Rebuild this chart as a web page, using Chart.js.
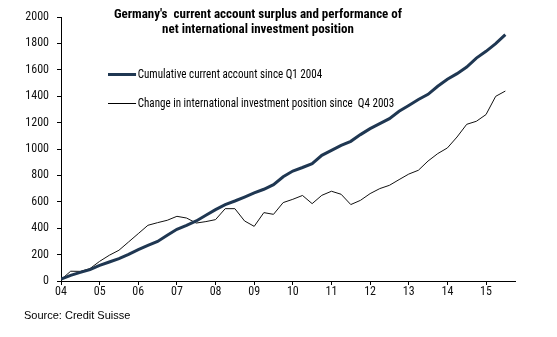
<!DOCTYPE html>
<html>
<head>
<meta charset="utf-8">
<script src="https://cdn.jsdelivr.net/npm/chart.js@4"></script>
<style>
    html, body { margin: 0; padding: 0; background: #fff; }
    #wrap { position: relative; width: 557px; height: 337px; }
    .narrow { font-family: 'Liberation Sans Narrow', 'Arial Narrow', 'Roboto Condensed', Roboto, sans-serif; }
    #title { position: absolute; left: 0; width: 516px; top: 6px; text-align: center;
             font-weight: bold; font-size: 13px; line-height: 15px; color: #000; }
    .leg { position: absolute; left: 108px; font-size: 13px; color: #000; white-space: nowrap;
           transform: scaleX(0.85); transform-origin: 0 50%; }
    .leg span.swatch { display: inline-block; width: 33px; vertical-align: middle; margin-right: 2px; }
    #source { position: absolute; left: 24px; top: 309px; font-family: 'Liberation Sans', Arial, sans-serif;
              font-size: 11px; color: #000; }
</style>
</head>
<body>
<div id="wrap">
    <canvas id="caChart" width="557" height="337"></canvas>
    <div id="title" class="narrow">Germany's&nbsp; current account surplus and performance of<br>net international investment position</div>
    <div class="leg narrow" style="top:66px"><span class="swatch" style="border-top:3px solid #1f3752"></span>Cumulative current account since Q1 2004</div>
    <div class="leg narrow" style="top:95px"><span class="swatch" style="border-top:1px solid #000"></span>Change in international investment position since&nbsp; Q4 2003</div>
    <div id="source">Source: Credit Suisse</div>
</div>
<script>
// ── Data (quarterly, Q1 2004 .. Q3 2015) ──────────────────────
const yearLabels = ['04', '05', '06', '07', '08', '09', '10', '11', '12', '13', '14', '15'];

const currentAccount = [
    15, 43, 65, 86, 118, 144, 169, 202, 238, 270, 300, 346,
    392, 422, 455, 498, 541, 579, 606, 636, 667, 695, 730, 790,
    833, 860, 889, 952, 990, 1028, 1058, 1109, 1154, 1192, 1230, 1286,
    1330, 1375, 1414, 1475, 1528, 1571, 1621, 1689, 1740, 1798, 1867
];

const iipChange = [
    10, 74, 73, 94, 149, 195, 233, 296, 359, 422, 442, 460,
    490, 477, 439, 450, 465, 548, 548, 455, 414, 518, 505, 594,
    619, 648, 586, 649, 680, 657, 579, 611, 662, 700, 725, 768,
    810, 839, 909, 965, 1008, 1091, 1187, 1210, 1261, 1399, 1439
];

const yTicks = [0, 200, 400, 600, 800, 1000, 1200, 1400, 1600, 1800, 2000];

const toPoints = arr => arr.map((v, i) => ({ x: i, y: v }));

const tickFont = { family: "'Liberation Sans Narrow', 'Arial Narrow', 'Roboto Condensed', Roboto, sans-serif", size: 12 };

// ── Line chart ────────────────────────────────────────────────
const ctx = document.getElementById('caChart').getContext('2d');
new Chart(ctx, {
    type: 'line',
    data: {
        datasets: [{
            label: 'Cumulative current account since Q1 2004',
            data: toPoints(currentAccount),
            borderColor: '#1f3752',
            borderWidth: 3,
            pointRadius: 0,
            tension: 0
        },
        {
            label: 'Change in international investment position since Q4 2003',
            data: toPoints(iipChange),
            borderColor: '#111111',
            borderWidth: 1,
            pointRadius: 0,
            tension: 0
        }]
    },
    options: {
        responsive: false,
        animation: false,
        layout: {
            padding: { top: 17, right: 42, left: 0, bottom: 0 }
        },
        plugins: {
            legend: { display: false },
            tooltip: { enabled: false }
        },
        scales: {
            x: {
                type: 'linear',
                min: 0,
                max: 47,
                afterFit: scale => { scale.height = 56; },
                afterBuildTicks: scale => {
                    scale.ticks = yearLabels.map((l, i) => ({ value: i * 4 }));
                },
                grid: {
                    drawOnChartArea: false,
                    color: '#000',
                    tickLength: 4
                },
                border: { color: '#000', width: 1 },
                ticks: {
                    color: '#111',
                    font: tickFont,
                    padding: 0,
                    maxRotation: 0,
                    callback: v => yearLabels[v / 4]
                }
            },
            y: {
                min: 0,
                max: 2000,
                afterFit: scale => { scale.width = 61; },
                afterBuildTicks: scale => {
                    scale.ticks = yTicks.map(v => ({ value: v }));
                },
                grid: {
                    drawOnChartArea: false,
                    color: '#000',
                    tickLength: 4
                },
                border: { color: '#000', width: 1 },
                ticks: {
                    color: '#111',
                    font: tickFont,
                    padding: 8,
                    callback: v => String(v)
                }
            }
        }
    }
});
</script>
</body>
</html>
